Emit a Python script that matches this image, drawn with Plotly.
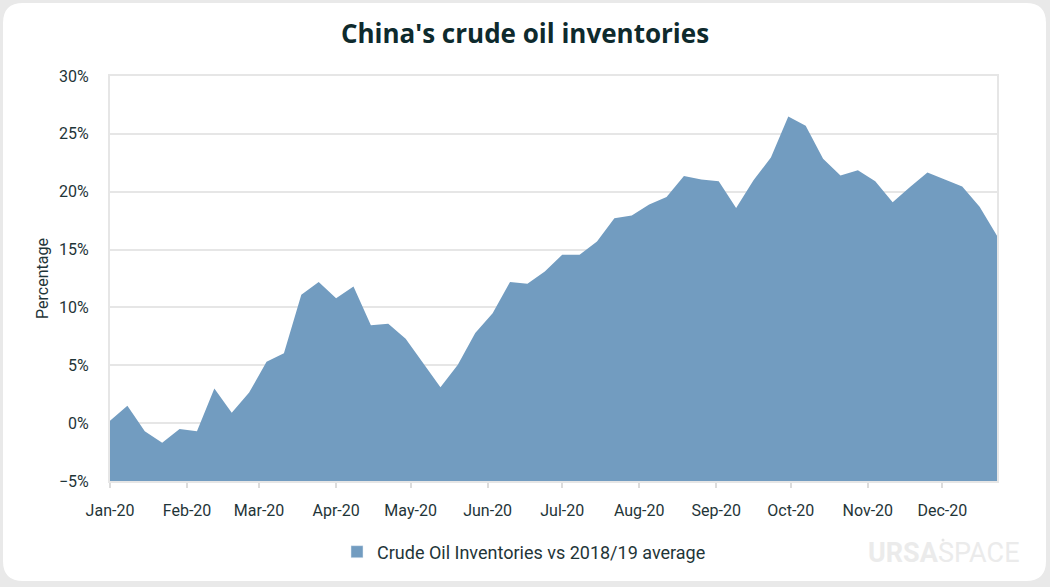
import plotly.graph_objects as go

# ---------------- data ----------------
dates = [
    "2020-01-01", "2020-01-08", "2020-01-15", "2020-01-22", "2020-01-29",
    "2020-02-05", "2020-02-12", "2020-02-19", "2020-02-26",
    "2020-03-04", "2020-03-11", "2020-03-18", "2020-03-25",
    "2020-04-01", "2020-04-08", "2020-04-15", "2020-04-22", "2020-04-29",
    "2020-05-06", "2020-05-13", "2020-05-20", "2020-05-27",
    "2020-06-03", "2020-06-10", "2020-06-17", "2020-06-24",
    "2020-07-01", "2020-07-08", "2020-07-15", "2020-07-22", "2020-07-29",
    "2020-08-05", "2020-08-12", "2020-08-19", "2020-08-26",
    "2020-09-02", "2020-09-09", "2020-09-16", "2020-09-23", "2020-09-30",
    "2020-10-07", "2020-10-14", "2020-10-21", "2020-10-28",
    "2020-11-04", "2020-11-11", "2020-11-18", "2020-11-25",
    "2020-12-02", "2020-12-09", "2020-12-16", "2020-12-23",
]
inventories_pct = [
    0.2, 1.5, -0.7, -1.7, -0.5,
    -0.7, 3.0, 0.9, 2.65,
    5.3, 6.05, 11.1, 12.2,
    10.8, 11.8, 8.45, 8.6, 7.3,
    5.2, 3.1, 5.05, 7.8,
    9.5, 12.2, 12.05, 13.1,
    14.55, 14.55, 15.7, 17.7, 17.95,
    18.9, 19.55, 21.35, 21.05,
    20.9, 18.6, 21.0, 22.95, 26.5,
    25.7, 22.85, 21.4, 21.85,
    20.9, 19.1, 20.4, 21.65,
    21.05, 20.45, 18.7, 16.2,
]
series_name = "Crude Oil Inventories vs 2018/19 average"
title_text = "China's crude oil inventories"
y_title = "Percentage"
y_min, y_max, y_step = -5, 30, 5
x_range = ["2020-01-01", "2020-12-23"]

# ---------------- style ----------------
FILL = "#729cc0"
GRID = "#e6e6e6"
TEXT = "#1f3538"
TITLE = "#0e2a2d"
FONT = "Roboto"

W, H = 1050, 587
ML, MR, MT, MB = 110, 53, 76, 106
PW, PH = W - ML - MR, H - MT - MB


def px2paper(px, py):
    return (px - ML) / PW, (H - MB - py) / PH


fig = go.Figure()

# baseline at axis minimum so the area fills down to the bottom axis
fig.add_trace(go.Scatter(
    x=dates, y=[y_min] * len(dates), mode="lines",
    line=dict(width=0, color=FILL), showlegend=False, hoverinfo="skip",
))
fig.add_trace(go.Scatter(
    x=dates, y=inventories_pct, mode="lines", name=series_name,
    line=dict(width=0, color=FILL), fill="tonexty", fillcolor=FILL,
    showlegend=False,
))
# legend entry (square swatch)
fig.add_trace(go.Bar(
    x=[None], y=[None], name=series_name, marker=dict(color=FILL),
    showlegend=True,
))

# rounded white card on grey background
x0, y0 = px2paper(3, 3)
x1, y1 = px2paper(1046, 581)
r = 20
rx, ry = r / PW, r / PH
path = (
    f"M{x0 + rx},{y0} L{x1 - rx},{y0} Q{x1},{y0} {x1},{y0 - ry} "
    f"L{x1},{y1 + ry} Q{x1},{y1} {x1 - rx},{y1} "
    f"L{x0 + rx},{y1} Q{x0},{y1} {x0},{y1 + ry} "
    f"L{x0},{y0 - ry} Q{x0},{y0} {x0 + rx},{y0} Z"
)

wx, wy = px2paper(944, 553)
dxa, dya = px2paper(941.5, 538.5)
dxb, dyb = px2paper(944.5, 541.5)

fig.update_layout(
    width=W, height=H,
    margin=dict(l=ML, r=MR, t=MT, b=MB, pad=0),
    paper_bgcolor="#e9e9e9",
    plot_bgcolor="rgba(0,0,0,0)",
    font=dict(family=FONT, size=16, color=TEXT),
    title=dict(
        text=f"<b>{title_text}</b>", x=0.5, xref="container",
        y=1 - 34 / H, yref="container", yanchor="middle", xanchor="center",
        font=dict(family="Open Sans", size=26, color=TITLE),
    ),
    shapes=[
        dict(
            type="path", path=path, xref="paper", yref="paper",
            fillcolor="white", line=dict(width=0), layer="below",
        ),
        dict(
            type="circle", xref="paper", yref="paper",
            x0=dxa, y0=dyb, x1=dxb, y1=dya,
            fillcolor="#e6e6e6", line=dict(width=0), layer="above",
        ),
    ],
    showlegend=True,
    legend=dict(
        orientation="h", xref="container", yref="container",
        x=337 / W, y=1 - 552 / H, xanchor="left", yanchor="middle",
        font=dict(family=FONT, size=18, color=TEXT),
        bgcolor="rgba(0,0,0,0)", itemwidth=30,
    ),
    annotations=[
        dict(
            text="<b>URSA</b>SPACE", x=wx, y=wy,
            xref="paper", yref="paper",
            showarrow=False, font=dict(family=FONT, size=27, color="#ebebeb"),
            xanchor="center", yanchor="middle",
        ),
    ],
    bargap=0.5,
)

fig.update_xaxes(
    type="date", range=x_range, dtick="M1", tick0="2020-01-01",
    tickformat="%b-%y", showgrid=False, zeroline=False,
    showline=True, linecolor=GRID, linewidth=2, mirror=True,
    ticks="outside", ticklen=5, tickwidth=2, tickcolor="#dcdcdc",
    ticklabelstandoff=9,
    tickfont=dict(family=FONT, size=16, color=TEXT),
)
fig.update_yaxes(
    range=[y_min, y_max], dtick=y_step, tick0=0, ticksuffix="%",
    showgrid=True, gridcolor=GRID, gridwidth=2, zeroline=False,
    showline=True, linecolor=GRID, linewidth=2, mirror=True,
    ticks="outside", ticklen=16, tickcolor="rgba(0,0,0,0)",
    tickfont=dict(family=FONT, size=16, color=TEXT),
    title=dict(text=y_title, standoff=6, font=dict(family=FONT, size=16, color=TEXT)),
)

fig.write_html("out.html")
